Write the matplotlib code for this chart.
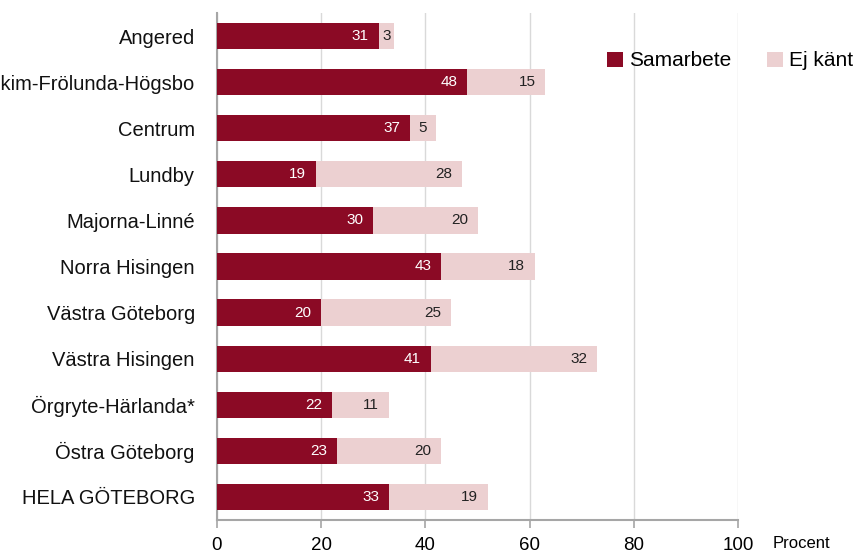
import numpy as np
import matplotlib.pyplot as plt

# Data
kategorier = ['Angered', 'Askim-Frölunda-Högsbo', 'Centrum', 'Lundby', 'Majorna-Linné',
              'Norra Hisingen', 'Västra Göteborg', 'Västra Hisingen', 'Örgryte-Härlanda*',
              'Östra Göteborg', 'HELA GÖTEBORG']
samarbete = [31, 48, 37, 19, 30, 43, 20, 41, 22, 23, 33]
ej_kant = [3, 15, 5, 28, 20, 18, 25, 32, 11, 20, 19]

mork = '#8B0A25'
ljus = '#ECD0D1'
gra = '#A6A6A6'

plt.rcParams['font.family'] = ['Liberation Sans', 'DejaVu Sans']

fig = plt.figure(figsize=(8.58, 5.54), dpi=100)
ax = fig.add_axes([217/858, 34/554, (738-217)/858, (541-34)/554])

y = np.arange(len(kategorier))
b1 = ax.barh(y, samarbete, height=0.57, color=mork, label='Samarbete', zorder=3)
b2 = ax.barh(y, ej_kant, left=samarbete, height=0.57, color=ljus, label='Ej känt', zorder=3)

# Etiketter i staplarna
for i in range(len(kategorier)):
    ax.annotate(str(samarbete[i]), (samarbete[i], y[i]), xytext=(-7, 0),
                textcoords='offset points', ha='right', va='center',
                color='white', fontsize=11, zorder=4)
    slut = samarbete[i] + ej_kant[i]
    if ej_kant[i] < 6:
        ax.text(samarbete[i] + ej_kant[i] / 2, y[i], str(ej_kant[i]), ha='center',
                va='center', color='#222222', fontsize=11, zorder=4)
    else:
        ax.annotate(str(ej_kant[i]), (slut, y[i]), xytext=(-7, 0),
                    textcoords='offset points', ha='right', va='center',
                    color='#222222', fontsize=11, zorder=4)

ax.set_xlim(0, 100)
ax.set_ylim(len(kategorier) - 0.5, -0.5)
ax.set_yticks(y)
ax.set_yticklabels(kategorier, fontsize=14.5, color='#111111')
ax.set_xticks([0, 20, 40, 60, 80, 100])
ax.tick_params(axis='x', labelsize=13.5, length=6, color=gra, width=1.2, pad=6)
ax.tick_params(axis='y', length=0, pad=16)
ax.xaxis.grid(True, color='#D9D9D9', linewidth=1, zorder=0)
for s in ['top', 'right']:
    ax.spines[s].set_visible(False)
ax.spines['left'].set_color(gra)
ax.spines['left'].set_linewidth(1.5)
ax.spines['bottom'].set_color(gra)
ax.spines['bottom'].set_linewidth(1.5)

fig.text(773/858, 1 - 543/554, 'Procent', fontsize=12, ha='left', va='center')

fig.legend(loc='center left', bbox_to_anchor=(599/858, 1 - 61/554), ncol=2,
           frameon=False, fontsize=15, handlelength=0.75, handleheight=0.75,
           handletextpad=0.3, columnspacing=1.7, borderaxespad=0)

plt.savefig('out.png', dpi=100)
plt.close(fig)
